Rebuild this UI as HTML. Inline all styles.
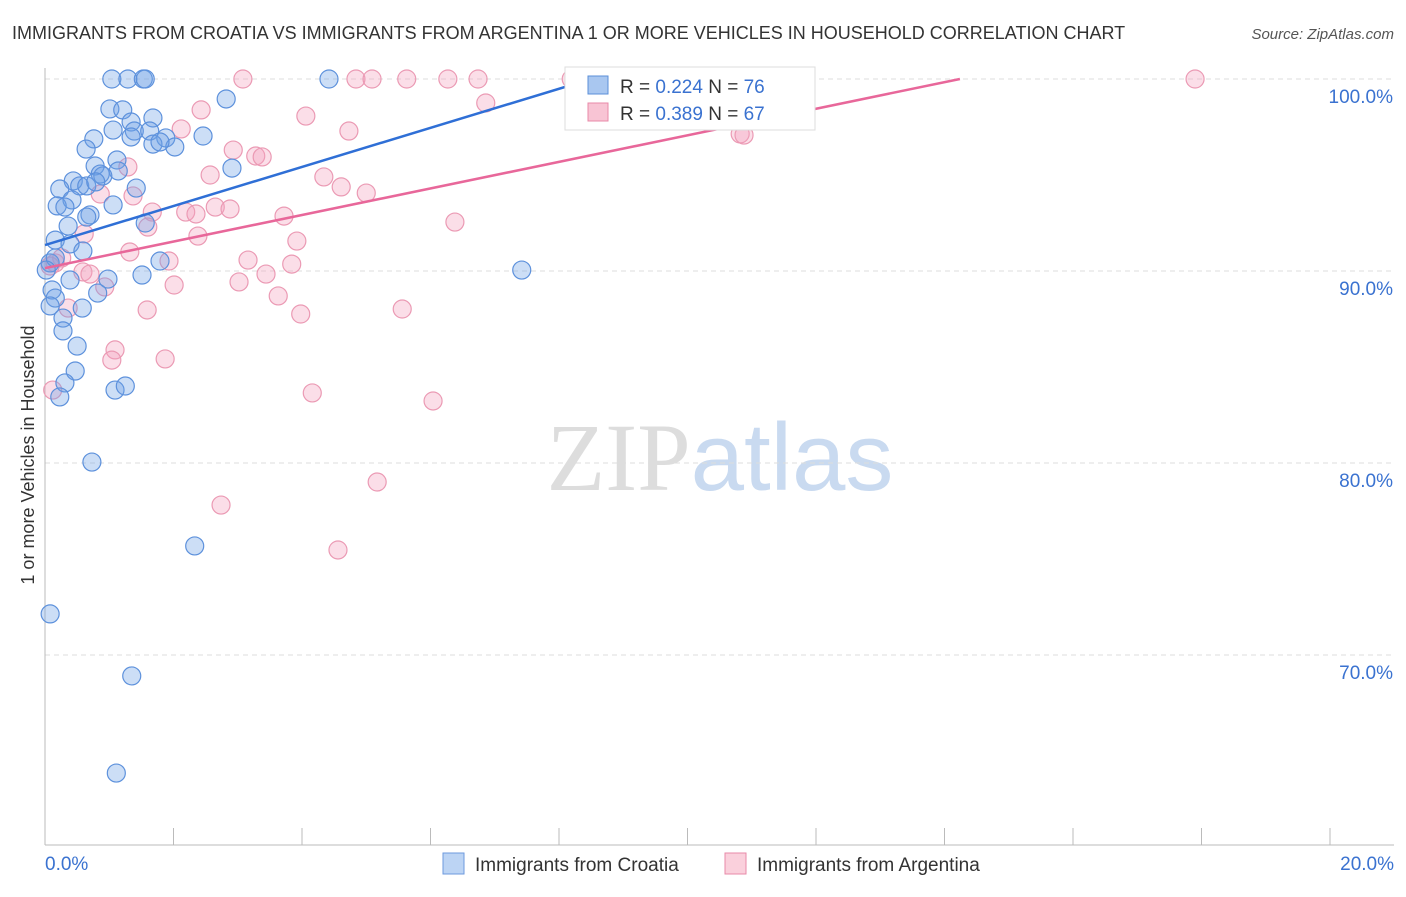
<!DOCTYPE html>
<html><head><meta charset="utf-8"><style>
body{margin:0;background:#fff;font-family:"Liberation Sans",sans-serif;}
svg text{font-family:"Liberation Sans",sans-serif;}
</style></head><body>
<svg id="chart" width="1406" height="892" xmlns="http://www.w3.org/2000/svg">
<text x="12" y="39" font-size="18" fill="#333">IMMIGRANTS FROM CROATIA VS IMMIGRANTS FROM ARGENTINA 1 OR MORE VEHICLES IN HOUSEHOLD CORRELATION CHART</text>
<text x="1394" y="39" font-size="15" fill="#555" text-anchor="end" font-style="italic">Source: ZipAtlas.com</text>
<text x="720" y="490" font-size="96" text-anchor="middle"><tspan fill="#ddd" font-family="Liberation Serif">ZIP</tspan><tspan fill="#c9daf0">atlas</tspan></text>
<g id="grid"></g><g id="axes"></g><g id="pts"></g><g id="lines"></g>
<text transform="translate(34,455) rotate(-90)" font-size="18" fill="#333" text-anchor="middle">1 or more Vehicles in Household</text>
<g>
<rect x="565" y="67" width="250" height="63" fill="#fff" stroke="#ddd"/>
<rect x="588" y="76" width="20" height="18" fill="#a9c7f0" stroke="#5b8fd8"/>
<text x="620" y="93" font-size="19" fill="#333">R = <tspan fill="#3a72d0">0.224</tspan>    N = <tspan fill="#3a72d0">76</tspan></text>
<rect x="588" y="103" width="20" height="18" fill="#f8c4d4" stroke="#e88aa8"/>
<text x="620" y="120" font-size="19" fill="#333">R = <tspan fill="#3a72d0">0.389</tspan>    N = <tspan fill="#3a72d0">67</tspan></text>
</g>
<g><rect x="443" y="853" width="21" height="21" fill="#bcd4f4" stroke="#6d9ade"/><text x="475" y="871" font-size="19" fill="#333">Immigrants from Croatia</text></g>
<g><rect x="725" y="853" width="21" height="21" fill="#fad0dc" stroke="#e88aa8"/><text x="757" y="871" font-size="19" fill="#333">Immigrants from Argentina</text></g>
</svg>
<script>
const yTicks=[100,90,80,70];
const yTickLabels=["100.0%","90.0%","80.0%","70.0%"];
const xTickLabels=["0.0%","20.0%"];
const croatiaX=[1.04,1.29,1.53,1.56,4.42,10.29,1.01,1.21,2.82,1.68,1.06,1.34,1.39,1.63,1.34,1.88,1.68,2.02,1.79,0.76,0.64,2.46,1.12,2.91,0.78,0.86,1.14,0.44,0.90,0.54,0.65,0.79,0.23,1.42,0.42,1.06,0.19,0.31,0.70,0.65,1.56,0.36,0.16,0.39,0.59,1.79,0.08,0.16,7.42,0.98,1.51,0.39,0.82,0.11,0.16,0.08,0.58,0.28,0.28,0.50,0.47,0.31,0.23,1.09,1.25,0.73,2.33,0.08,1.35,1.11,0.02];
const croatiaY=[100,100,100,100,100,100,98.44,98.39,98.96,97.97,97.34,97.76,97.29,97.29,96.98,96.93,96.61,96.46,96.72,96.88,96.35,97.03,95.78,95.36,95.47,95.05,95.21,94.69,94.95,94.43,94.43,94.64,94.27,94.32,93.70,93.44,93.39,93.33,92.92,92.81,92.50,92.34,91.61,91.41,91.04,90.52,90.42,90.68,90.05,89.58,89.79,89.53,88.85,89.01,88.59,88.18,88.07,87.55,86.88,86.09,84.79,84.17,83.44,83.80,84.01,80.05,75.68,72.14,68.91,63.85,90.05];
const argX=[3.08,4.84,5.09,5.63,6.27,6.74,8.19,9.59,17.90,6.86,4.06,4.73,2.43,2.12,2.93,3.28,3.38,2.57,1.29,2.65,2.88,2.19,1.67,2.35,0.86,1.60,1.37,4.34,4.61,5.00,6.38,3.72,2.38,3.92,3.16,3.84,3.44,3.02,3.63,3.98,5.56,1.93,2.01,1.59,1.09,1.04,1.87,4.16,6.04,5.17,2.74,4.56,10.82,10.88,0.61,0.59,0.70,0.93,0.16,0.26,0.12,0.36,1.32,0.08];
const argY=[100,100,100,100,100,100,100,100,100,98.75,98.07,97.29,98.39,97.40,96.30,95.99,95.94,95.00,95.42,93.33,93.23,93.07,93.07,92.97,94.01,92.29,93.91,94.90,94.38,94.06,92.55,92.86,91.82,91.56,90.57,90.36,89.84,89.43,88.70,87.76,88.02,90.52,89.27,87.97,85.89,85.36,85.42,83.65,83.23,79.01,77.81,75.47,97.14,97.08,91.93,89.95,89.84,89.17,90.42,90.68,83.80,88.07,90.99,90.26];
const croatiaTrend=[91.35,8.5];   // intercept, x where it reaches 100
const argTrend=[90.15,14.24];
const NS="http://www.w3.org/2000/svg";
const X=v=>45+v*64.25, Y=v=>79+(100-v)*19.2;
function mk(t,a,p){const e=document.createElementNS(NS,t);for(const k in a)e.setAttribute(k,a[k]);p.appendChild(e);return e;}
const grid=document.getElementById('grid'),axes=document.getElementById('axes'),pts=document.getElementById('pts'),lines=document.getElementById('lines');
yTicks.forEach((t,i)=>{
 const g=mk('line',{x1:45,x2:1394,y1:Y(t),y2:Y(t),stroke:'#ddd','stroke-dasharray':'5,4'},grid);
 
 
 const tx=mk('text',{x:1393,y:Y(t)+24,'font-size':19,fill:'#3a72d0','text-anchor':'end'},axes);
 tx.textContent=yTickLabels[i];
 
 
});
const ax=mk('line',{x1:45,x2:45,y1:68,y2:845,stroke:'#bbb'},axes);


const bx=mk('line',{x1:45,x2:1394,y1:845,y2:845,stroke:'#bbb'},axes);


for(let i=0;i<=10;i++){const tk=mk('line',{x1:X(i*2),x2:X(i*2),y1:828,y2:845,stroke:'#bbb'},axes);
 
 }
[[0,'start',45],[20,'end',1394]].forEach((d,i)=>{const t=mk('text',{x:d[2],y:870,'font-size':19,fill:'#3a72d0','text-anchor':d[1]},axes);t.textContent=xTickLabels[i];
 
 });
function dots(xs,ys,fill,stroke,name){xs.forEach((x,i)=>{const c=mk('circle',{cx:X(x),cy:Y(ys[i]),r:9,fill:fill,stroke:stroke,'stroke-width':1.2},pts);
 
 });}
dots(argX,argY,'rgba(244,160,188,0.35)','#eb9ab4','argentina-point');
dots(croatiaX,croatiaY,'rgba(110,160,230,0.35)','#5d91dc','croatia-point');
function trend(tr,col,name){const l=mk('line',{x1:X(0),y1:Y(tr[0]),x2:X(tr[1]),y2:Y(100),stroke:col,'stroke-width':2.5},lines);
 
 }
trend(croatiaTrend,'#2f6fd6','croatia-trendline');
trend(argTrend,'#e8679a','argentina-trendline');
</script>
</body></html>
